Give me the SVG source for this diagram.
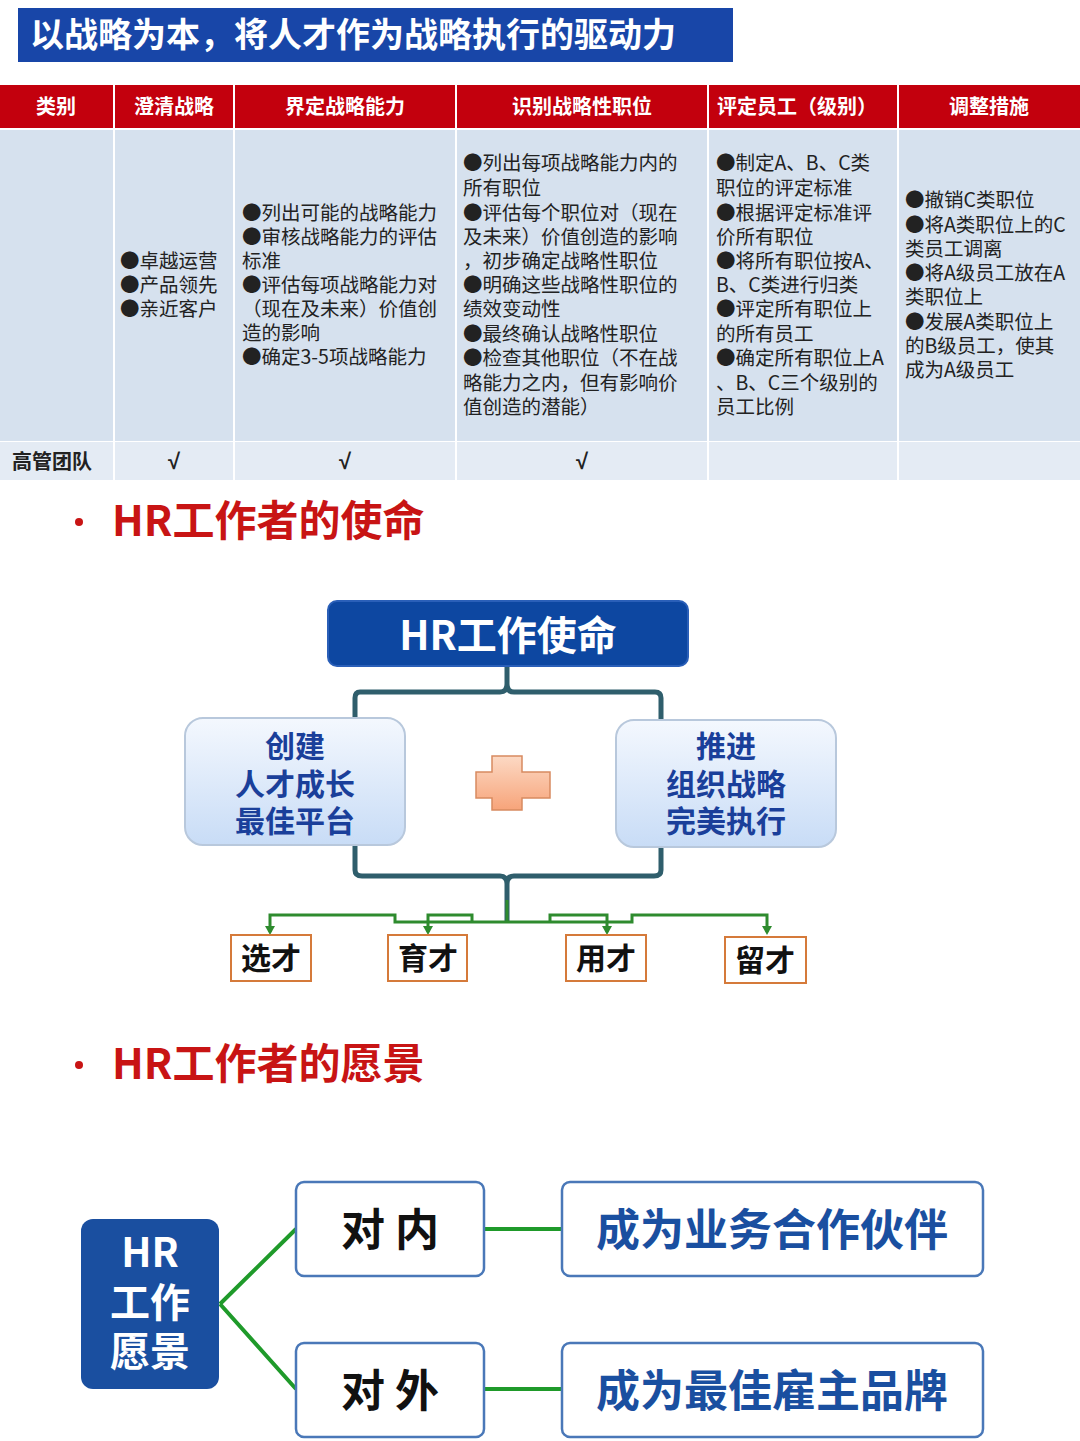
<svg xmlns="http://www.w3.org/2000/svg" width="1080" height="1441" viewBox="0 0 1080 1441">
<defs>
<style>
text{font-family:"Noto Sans CJK SC","Noto Sans",sans-serif}
.h{fill:#fff;font-size:20px;font-weight:bold;text-anchor:middle}
.b{fill:#222;font-size:19.5px}
.ck{fill:#222;font-size:22px;text-anchor:middle;font-family:"Liberation Sans",sans-serif;font-weight:bold}
.sec{fill:#c81414;font-size:42px;font-weight:bold}
.sb{fill:#1a3f9a;font-size:30px;font-weight:bold;text-anchor:middle}
.tl{fill:#111;font-size:30px;font-weight:bold;text-anchor:middle}
.tk{stroke:#2f5e6c;stroke-width:5;fill:none}
.gr{stroke:#2e8b2e;stroke-width:3;fill:none}
.ob{fill:#fff;stroke:#d57a3a;stroke-width:2}
.vb{fill:#fff;stroke:#4a78b8;stroke-width:2.5}
.vl{stroke:#1f9a2a;stroke-width:4;fill:none}
</style>
<linearGradient id="lb" x1="0" y1="0" x2="0" y2="1"><stop offset="0" stop-color="#f4f8fe"/><stop offset="1" stop-color="#c8dcf6"/></linearGradient>
<linearGradient id="pl" x1="0" y1="0" x2="0" y2="1"><stop offset="0" stop-color="#fcd9c4"/><stop offset="1" stop-color="#f7a47a"/></linearGradient>
</defs>
<rect width="1080" height="1441" fill="#fff"/>
<g id="title"><rect x="18" y="8" width="715" height="54" fill="#1846a8"/>
<text x="30" y="47" fill="#fff" font-size="34" font-weight="bold">以战略为本，将人才作为战略执行的驱动力</text></g>
<g id="table">
<rect x="0" y="85" width="1080" height="43" fill="#c3000d"/>
<rect x="0" y="130" width="1080" height="311" fill="#d6e1ee"/>
<rect x="0" y="442" width="1080" height="38" fill="#e4ebf4"/>
<g stroke="#fff" stroke-width="2"><line x1="114" y1="85" x2="114" y2="480"/><line x1="234" y1="85" x2="234" y2="480"/><line x1="456" y1="85" x2="456" y2="480"/><line x1="708" y1="85" x2="708" y2="480"/><line x1="898" y1="85" x2="898" y2="480"/></g>
<text class="h" x="56" y="114">类别</text><text class="h" x="174" y="114">澄清战略</text><text class="h" x="345" y="114">界定战略能力</text><text class="h" x="582" y="114">识别战略性职位</text><text class="h" x="797" y="114">评定员工（级别）</text><text class="h" x="989" y="114">调整措施</text>
<text class="b" x="120" y="268">●卓越运营</text><text class="b" x="120" y="292">●产品领先</text><text class="b" x="120" y="316">●亲近客户</text>
<text class="b" x="242" y="220">●列出可能的战略能力</text><text class="b" x="242" y="244">●审核战略能力的评估</text><text class="b" x="242" y="268">标准</text><text class="b" x="242" y="292">●评估每项战略能力对</text><text class="b" x="242" y="316">（现在及未来）价值创</text><text class="b" x="242" y="340">造的影响</text><text class="b" x="242" y="364">●确定3-5项战略能力</text>
<text class="b" x="463" y="170">●列出每项战略能力内的</text><text class="b" x="463" y="195">所有职位</text><text class="b" x="463" y="220">●评估每个职位对（现在</text><text class="b" x="463" y="244">及未来）价值创造的影响</text><text class="b" x="463" y="268">，初步确定战略性职位</text><text class="b" x="463" y="292">●明确这些战略性职位的</text><text class="b" x="463" y="316">绩效变动性</text><text class="b" x="463" y="341">●最终确认战略性职位</text><text class="b" x="463" y="365">●检查其他职位（不在战</text><text class="b" x="463" y="390">略能力之内，但有影响价</text><text class="b" x="463" y="414">值创造的潜能）</text>
<text class="b" x="716" y="170">●制定A、B、C类</text><text class="b" x="716" y="195">职位的评定标准</text><text class="b" x="716" y="220">●根据评定标准评</text><text class="b" x="716" y="244">价所有职位</text><text class="b" x="716" y="268">●将所有职位按A、</text><text class="b" x="716" y="292">B、C类进行归类</text><text class="b" x="716" y="316">●评定所有职位上</text><text class="b" x="716" y="341">的所有员工</text><text class="b" x="716" y="365">●确定所有职位上A</text><text class="b" x="716" y="390">、B、C三个级别的</text><text class="b" x="716" y="414">员工比例</text>
<text class="b" x="905" y="207">●撤销C类职位</text><text class="b" x="905" y="232">●将A类职位上的C</text><text class="b" x="905" y="256">类员工调离</text><text class="b" x="905" y="280">●将A级员工放在A</text><text class="b" x="905" y="304">类职位上</text><text class="b" x="905" y="329">●发展A类职位上</text><text class="b" x="905" y="353">的B级员工，使其</text><text class="b" x="905" y="377">成为A级员工</text>
<text x="12" y="469" fill="#222" font-weight="bold" font-size="20">高管团队</text>
<text class="ck" x="174" y="469">√</text><text class="ck" x="345" y="469">√</text><text class="ck" x="582" y="469">√</text>
</g>
<g id="sec1"><circle cx="79" cy="522" r="4" fill="#c81414"/><text class="sec" x="112" y="536">HR工作者的使命</text></g>
<g id="connectors">
<path class="tk" d="M507,666 V684 Q507,692 500,692 H360 Q355,692 355,698 V718 M507,684 Q507,692 514,692 H655 Q661,692 661,698 V720"/>
<path class="tk" d="M355,845 V870 Q355,876 362,876 H500 Q507,876 507,884 V922 M507,884 Q507,876 514,876 H654 Q661,876 661,870 V847"/>
<path class="gr" d="M507,900 V922 H395 V915 H270 V932 M395,922 H472 V915 H428 V932 M507,922 H632 V915 H767 V932 M632,922 H550 V915 H607 V932"/>
<g fill="#2e8b2e"><path d="M265,926 L275,926 L270,935 z"/><path d="M423,926 L433,926 L428,935 z"/><path d="M602,926 L612,926 L607,935 z"/><path d="M762,926 L772,926 L767,935 z"/></g>
<path class="vl" d="M220,1304 L296,1229 M220,1304 L296,1389 M484,1229 H562 M484,1389 H562"/>
</g>
<g id="mission"><rect x="328" y="601" width="360" height="65" rx="9" fill="#0d47a1" stroke="#2a5fb8" stroke-width="2"/><text x="508" y="650" fill="#fff" font-size="40" font-weight="bold" text-anchor="middle">HR工作使命</text></g>
<g id="left"><rect x="185" y="718" width="220" height="127" rx="18" fill="url(#lb)" stroke="#b8c8dc" stroke-width="2"/><text class="sb" x="295" y="757">创建</text><text class="sb" x="295" y="795">人才成长</text><text class="sb" x="295" y="832">最佳平台</text></g>
<g id="right"><rect x="616" y="720" width="220" height="127" rx="18" fill="url(#lb)" stroke="#b8c8dc" stroke-width="2"/><text class="sb" x="726" y="757">推进</text><text class="sb" x="726" y="795">组织战略</text><text class="sb" x="726" y="832">完美执行</text></g>
<g id="plus"><path d="M492,756 H522 V772 H550 V798 H522 V810 H492 V798 H476 V772 H492 z" fill="url(#pl)" stroke="#d88a60" stroke-width="1.5"/></g>
<g id="n1"><rect class="ob" x="231" y="935" width="80" height="46"/><text class="tl" x="271" y="969">选才</text></g>
<g id="n2"><rect class="ob" x="388" y="935" width="79" height="46"/><text class="tl" x="428" y="969">育才</text></g>
<g id="n3"><rect class="ob" x="566" y="935" width="80" height="46"/><text class="tl" x="606" y="969">用才</text></g>
<g id="n4"><rect class="ob" x="725" y="937" width="81" height="46"/><text class="tl" x="765" y="971">留才</text></g>
<g id="sec2"><circle cx="79" cy="1065" r="4" fill="#c81414"/><text class="sec" x="112" y="1079">HR工作者的愿景</text></g>
<g id="hr"><rect x="81" y="1219" width="138" height="170" rx="12" fill="#1a4fa0"/><text x="150" y="1267" fill="#fff" font-size="40" font-weight="bold" text-anchor="middle">HR</text><text x="150" y="1317" fill="#fff" font-size="40" font-weight="bold" text-anchor="middle">工作</text><text x="150" y="1366" fill="#fff" font-size="40" font-weight="bold" text-anchor="middle">愿景</text></g>
<g id="inner"><rect class="vb" x="296" y="1182" width="188" height="94" rx="8"/><text x="390" y="1246" fill="#111" font-size="44" font-weight="bold" text-anchor="middle">对 内</text></g>
<g id="outer"><rect class="vb" x="296" y="1343" width="188" height="94" rx="8"/><text x="390" y="1407" fill="#111" font-size="44" font-weight="bold" text-anchor="middle">对 外</text></g>
<g id="p1"><rect class="vb" x="562" y="1182" width="421" height="94" rx="8"/><text x="772" y="1246" fill="#1a4fa0" font-size="44" font-weight="bold" text-anchor="middle">成为业务合作伙伴</text></g>
<g id="p2"><rect class="vb" x="562" y="1343" width="421" height="94" rx="8"/><text x="772" y="1407" fill="#1a4fa0" font-size="44" font-weight="bold" text-anchor="middle">成为最佳雇主品牌</text></g>
</svg>
